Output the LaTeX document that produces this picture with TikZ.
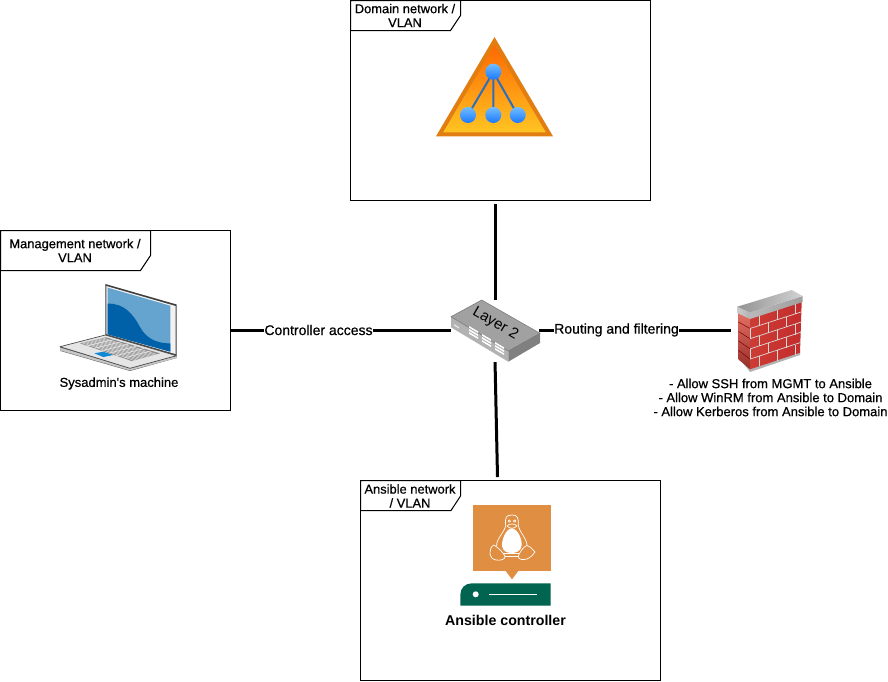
\documentclass[tikz,border=0pt]{standalone}
\usepackage{fontspec}
\setmainfont{Liberation Sans}
\usetikzlibrary{calc}
\newfontfamily\semi[FakeBold=0.6]{Liberation Sans}
\definecolor{panelblue}{HTML}{64A4CF}
\definecolor{darkwave}{HTML}{0060A8}
\tikzset{
  x=1pt,y=-1pt,
  netbox/.style={draw=black,line width=1pt,fill=white,inner sep=0pt},
  tab/.style={draw=black,line width=1pt,fill=white},
  tabtext/.style={align=center,font=\semi\fontsize{12.9}{14}\selectfont,inner sep=0pt},
  link/.style={line width=3pt,black},
  linklabel/.style={font=\semi\fontsize{14}{15}\selectfont,inner sep=0pt},
  ghost/.style={inner sep=0pt,minimum width=#1},
}
\begin{document}
\begin{tikzpicture}
\useasboundingbox (0,0) rectangle (888,681);
% network boxes
\node[netbox,minimum width=300pt,minimum height=200pt] (domain) at (500.5,100.5) {};
\node[netbox,minimum width=230pt,minimum height=180pt] (mgmt) at (115.5,320.5) {};
\node[netbox,minimum width=300pt,minimum height=200pt] (ansible) at (510.5,580.5) {};
% tabs
\draw[tab] (350.5,0.5) -- (460.5,0.5) -- (460.5,15.5) -- (450.5,30.5) -- (350.5,30.5) -- cycle;
\node[tabtext] (domaintab) at (405,15.5) {Domain network /\\VLAN};
\draw[tab] (0.5,230.5) -- (150.5,230.5) -- (150.5,255.5) -- (140.5,270.5) -- (0.5,270.5) -- cycle;
\node[tabtext] (mgmttab) at (75,250.5) {Management network /\\VLAN};
\draw[tab] (360.5,480.5) -- (460.5,480.5) -- (460.5,496) -- (451,510.5) -- (360.5,510.5) -- cycle;
\node[tabtext] (ansibletab) at (410,496) {Ansible network\\/ VLAN};

% ---- domain triangle
\draw[line width=4pt,line join=miter,miter limit=10,
      draw={rgb,255:red,226;green,125;blue,18},
      top color={rgb,255:red,255;green,100;blue,0},bottom color={rgb,255:red,255;green,198;blue,35}]
   (494.5,41) -- (549.5,134.3) -- (439.5,134.3) -- cycle;
\definecolor{linkblue}{HTML}{2F6DBE}
\draw[linkblue,line width=2pt] (493.3,72) -- (468,115) (493.3,72) -- (493.3,115) (493.3,72) -- (517.7,115);
\foreach \cx/\cy in {493.3/71.7,468/115,493.3/115,517.7/115}
  \shade[top color={rgb,255:red,115;green,190;blue,255},bottom color={rgb,255:red,25;green,120;blue,255}] (\cx,\cy) circle (8);

% ---- laptop
\fill[black!75] (105.3,284) -- (176.7,304.5) -- (176.7,356) -- (105.3,335.5) -- cycle;
\fill[white!90!gray] (106.3,286) -- (175.5,306) -- (175.5,354) -- (106.3,334) -- cycle;
\fill[panelblue] (107.7,287.7) -- (170.3,305.7) -- (170.3,351.7) -- (107.7,334.3) -- cycle;
\fill[darkwave] (107.7,303.7) .. controls (124,303) and (133,314) .. (140,327)
   .. controls (147,340) and (158,343) .. (170.3,343.5) -- (170.3,351.7) -- (107.7,334.3) -- cycle;
\fill[black!60] (60,347) -- (60.5,351) -- (130,371) -- (176.5,358) -- (176.5,355.7) -- cycle;
\fill[gray!45] (60.5,350.5) -- (130,370.5) -- (176.5,358) -- (176.5,355.7) -- (130,368.3) -- (60,347.5) -- cycle;
\draw[black!70,line width=0.7pt,fill=black!10,line join=round] (60,346.7) -- (105.3,335) -- (176.5,355.7) -- (130,368.3) -- cycle;
\fill[black!45] (80,343.3) -- (106,337.3) -- (160,353.3) -- (131.7,361) -- cycle;
\foreach \t in {0.14,0.28,...,0.9}
  \draw[white!85!gray,line width=0.55pt] ($(80,343.3)!\t!(131.7,361)$) -- ($(106,337.3)!\t!(160,353.3)$);
\foreach \t in {0.08,0.16,...,0.95}
  \draw[white!85!gray,line width=0.4pt] ($(80,343.3)!\t!(106,337.3)$) -- ($(131.7,361)!\t!(160,353.3)$);
\fill[cyan!70!blue] (94.3,353.3) -- (103.3,351.7) -- (113.3,355) -- (103.3,357) -- cycle;
\node[font=\semi\fontsize{13}{14}\selectfont,inner sep=0pt] (sysname) at (119,383.5) {Sysadmin's machine};

% ---- switch (Layer 2)
\node[ghost=88pt,minimum height=60pt] (sw) at (495,330) {};
\fill[black!30] (451,316.7) -- (508.3,351) -- (508.3,361.7) -- (451,327.3) -- cycle;
\fill[black!50] (508.3,351) -- (540,333.3) -- (540,343) -- (508.3,361.7) -- cycle;
\fill[black!37] (451,316.7) -- (481.7,300) -- (540,333.3) -- (508.3,351) -- cycle;
\draw[black!55,line width=0.5pt] (451,316.7) -- (481.7,300) -- (540,333.3) -- (508.3,351) -- cycle;
\foreach \a/\b in {469/327,482/335,495/343}
  \foreach \d in {0,3,6}
    \fill[white] (\a,\b+\d-1) -- (\a+9,\b+\d+4.3) -- (\a+9,\b+\d+6) -- (\a,\b+\d+0.7) -- cycle;
\fill[white!80!gray] (454,324) -- (459,327) -- (459,328.5) -- (454,325.5) -- cycle;
\node[rotate=-30,font=\fontsize{15}{16}\selectfont,inner sep=0pt,black] (swlabel) at (495.3,323.5) {Layer 2};

% ---- firewall
\node[ghost=76pt,minimum height=80pt] (fw) at (769,330) {};
\fill[gray!60] (740,359) -- (750,372) -- (800,355) -- (800,351) -- (750,367) -- cycle;
\shade[top color={rgb,255:red,228;green,112;blue,100},bottom color={rgb,255:red,150;green,45;blue,40}]
  (738.3,312.7) -- (750,318.3) -- (750,369.3) -- (738.3,359.3) -- cycle;
\shade[left color={rgb,255:red,205;green,60;blue,52},right color={rgb,255:red,195;green,45;blue,45}]
  (750,318.3) -- (801.7,301.7) -- (800,352.7) -- (750,369.3) -- cycle;
\foreach \i in {1,...,4}
  \draw[white!70!gray,line width=0.7pt] (750,{318.3+\i*10.2}) -- (801,{301.9+\i*10.1});
\foreach \i in {1,...,4}
  \draw[black!50!red,line width=0.5pt] (738.5,{312.7+\i*9.4}) -- (750,{318.3+\i*10.2});
\foreach \r in {0,2,4}
  \foreach \k in {9,27,45}
    \draw[white!70!gray,line width=0.7pt] ({750+\k},{318.3-0.32*\k+\r*10.2}) -- ({750+\k},{318.3-0.32*\k+(\r+1)*10.2});
\foreach \r in {1,3}
  \foreach \k in {0.5,18,36}
    \draw[white!70!gray,line width=0.7pt] ({750+\k},{318.3-0.32*\k+\r*10.2}) -- ({750+\k},{318.3-0.32*\k+(\r+1)*10.2});
\shade[left color=gray!55,right color=gray!75] (750,312.5) -- (802.7,296) -- (802.7,302) -- (750,319) -- cycle;
\shade[left color=gray!40,right color=gray!60] (737.3,306.7) -- (750,312.5) -- (750,319) -- (737.3,313) -- cycle;
\shade[left color=gray!85,right color=gray!35] (737.3,306.7) -- (791.7,290) -- (802.7,296) -- (750,312.5) -- cycle;
\node[align=center,font=\semi\fontsize{13}{14}\selectfont,inner sep=0pt] (rules) at (770.5,397.5)
  {- Allow SSH from MGMT to Ansible\\- Allow WinRM from Ansible to Domain\\- Allow Kerberos from Ansible to Domain};

% ---- Ansible server with Linux tile
\definecolor{tileorange}{HTML}{E08E42}
\definecolor{servergreen}{HTML}{006450}
\fill[tileorange] (473.3,505.3) rectangle (550.7,571);
\fill[tileorange] (505.7,571) -- (518.3,571) -- (512,579.3) -- cycle;
\fill[servergreen] (460.3,605.7) -- (460.3,595) .. controls (460.3,588) and (465,583.3) .. (472,583.3) -- (550.7,583.3) -- (550.7,605.7) -- cycle;
\fill[white] (475.7,594.3) circle (3);
\draw[white,line width=1pt] (489,594.3) -- (537.3,594.3);
% penguin
\begin{scope}[white,line width=0.7pt,line join=round]
% belly
\fill (511.7,528.5) .. controls (518,528.5) and (522.5,540) .. (521.5,546)
  .. controls (521,551) and (516,553) .. (511.7,553)
  .. controls (507,553) and (502.5,551) .. (502,546)
  .. controls (501.5,540) and (506,528.5) .. (511.7,528.5) -- cycle;
% head and body outline
\draw (505.7,525.7) .. controls (505,518) and (505.5,515) .. (512,515)
  .. controls (518,515) and (518.5,518) .. (518.3,525.7)
  .. controls (520,533) and (528,540) .. (527,547);
\draw (505.7,525.7) .. controls (504,533) and (496,539) .. (496.7,546);
\draw (503,553.5) -- (520,553.5) (503,556) -- (520,556);
% eyes, beak
\draw (509.3,521) circle (1.2) (514.6,521) circle (1.2);
\draw (507,526) .. controls (509,523.3) and (515,523.3) .. (517,526) .. controls (514,529) and (510,529) .. (507,526) -- cycle;
% feet
\draw[fill=tileorange] (490,554) .. controls (490,550) and (491,546) .. (494,545)
   .. controls (497,547) and (502,551) .. (505,556) .. controls (505.5,560) and (500,560.5) .. (496,560)
   .. controls (492,559) and (490,557) .. (490,554) -- cycle;
\draw[fill=tileorange] (535,552) .. controls (532,549) and (530,546) .. (526.7,545.5)
   .. controls (523,547) and (520,552) .. (518.3,556) .. controls (518,560) and (523,560) .. (527,559)
   .. controls (531,557) and (533,555) .. (535,552) -- cycle;
\end{scope}
\node[font=\bfseries\fontsize{14.2}{16}\selectfont,inner sep=0pt] (ansname) at (505.5,620) {Ansible controller};

% ---- connectors
\coordinate (ansTop) at (497.5,477);
\node[linklabel] (ctrl) at (318.5,330) {Controller access};
\node[linklabel] (route) at (616.5,330) {Routing and filtering};
\draw[link,shorten >=2.5pt] (sw.north) -- (sw.north |- domain.south);
\draw[link,shorten <=2pt] (sw.south) -- (ansTop);
\draw[link] (mgmt.east |- ctrl.west) -- (ctrl.west);
\draw[link] (ctrl.east) -- (sw.west);
\draw[link] (sw.east) -- (route.west);
\draw[link] (route.east) -- (fw.west);
\end{tikzpicture}
\end{document}
